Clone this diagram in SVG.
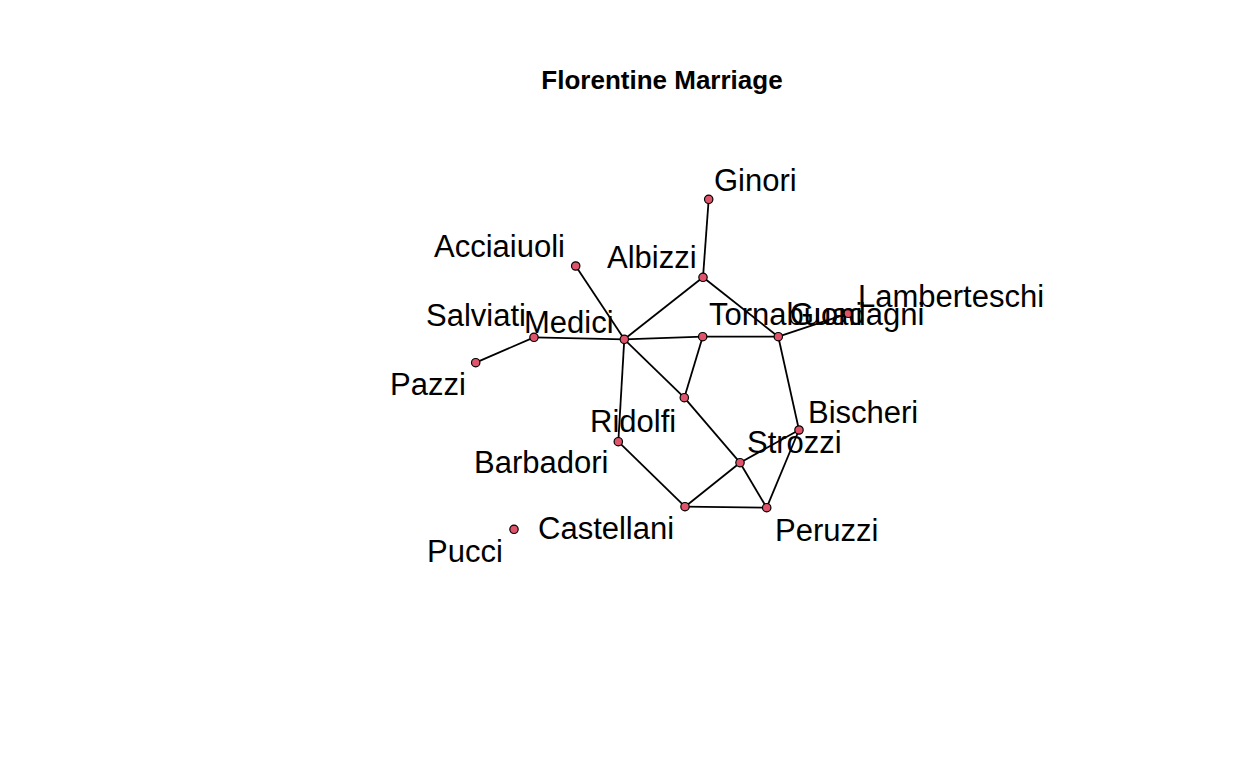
<svg xmlns="http://www.w3.org/2000/svg" width="1248" height="768" viewBox="0 0 1248 768">
<style>
.e{stroke:#000;stroke-width:1.8;fill:none}
.n{fill:#DF536B;stroke:#000;stroke-width:1.2}
.l{font-family:"Liberation Sans",Arial,sans-serif;font-size:31px;fill:#000}
.t{font-family:"Liberation Sans",Arial,sans-serif;font-size:26px;font-weight:bold;fill:#000}
</style>
<rect width="1248" height="768" fill="#fff"/>
<text class="t" x="662" y="89" text-anchor="middle">Florentine Marriage</text>
<g id="edges">
<line class="e" x1="575.7" y1="266" x2="624.3" y2="339.3"/>
<line class="e" x1="703" y1="277.3" x2="708.7" y2="199.3"/>
<line class="e" x1="703" y1="277.3" x2="778.3" y2="336.7"/>
<line class="e" x1="703" y1="277.3" x2="624.3" y2="339.3"/>
<line class="e" x1="618.3" y1="441.7" x2="685" y2="506.7"/>
<line class="e" x1="618.3" y1="441.7" x2="624.3" y2="339.3"/>
<line class="e" x1="799" y1="430" x2="778.3" y2="336.7"/>
<line class="e" x1="799" y1="430" x2="766.7" y2="507.7"/>
<line class="e" x1="799" y1="430" x2="740" y2="462.7"/>
<line class="e" x1="685" y1="506.7" x2="766.7" y2="507.7"/>
<line class="e" x1="685" y1="506.7" x2="740" y2="462.7"/>
<line class="e" x1="778.3" y1="336.7" x2="848.3" y2="313.3"/>
<line class="e" x1="778.3" y1="336.7" x2="702.7" y2="336.7"/>
<line class="e" x1="624.3" y1="339.3" x2="684.3" y2="397.7"/>
<line class="e" x1="624.3" y1="339.3" x2="534" y2="337.3"/>
<line class="e" x1="624.3" y1="339.3" x2="702.7" y2="336.7"/>
<line class="e" x1="475.7" y1="362.7" x2="534" y2="337.3"/>
<line class="e" x1="766.7" y1="507.7" x2="740" y2="462.7"/>
<line class="e" x1="684.3" y1="397.7" x2="740" y2="462.7"/>
<line class="e" x1="684.3" y1="397.7" x2="702.7" y2="336.7"/>
</g>
<g id="Acciaiuoli"><circle class="n" cx="575.7" cy="266" r="4.2"/><text class="l" x="434" y="257">Acciaiuoli</text></g>
<g id="Albizzi"><circle class="n" cx="703" cy="277.3" r="4.2"/><text class="l" x="607" y="268">Albizzi</text></g>
<g id="Barbadori"><circle class="n" cx="618.3" cy="441.7" r="4.2"/><text class="l" x="474" y="473">Barbadori</text></g>
<g id="Bischeri"><circle class="n" cx="799" cy="430" r="4.2"/><text class="l" x="808" y="423">Bischeri</text></g>
<g id="Castellani"><circle class="n" cx="685" cy="506.7" r="4.2"/><text class="l" x="538" y="539">Castellani</text></g>
<g id="Ginori"><circle class="n" cx="708.7" cy="199.3" r="4.2"/><text class="l" x="714" y="191">Ginori</text></g>
<g id="Guadagni"><circle class="n" cx="778.3" cy="336.7" r="4.2"/><text class="l" x="790" y="325">Guadagni</text></g>
<g id="Lamberteschi"><circle class="n" cx="848.3" cy="313.3" r="4.2"/><text class="l" x="858" y="307">Lamberteschi</text></g>
<g id="Medici"><circle class="n" cx="624.3" cy="339.3" r="4.2"/><text class="l" x="524" y="333">Medici</text></g>
<g id="Pazzi"><circle class="n" cx="475.7" cy="362.7" r="4.2"/><text class="l" x="390" y="395">Pazzi</text></g>
<g id="Peruzzi"><circle class="n" cx="766.7" cy="507.7" r="4.2"/><text class="l" x="775" y="541">Peruzzi</text></g>
<g id="Pucci"><circle class="n" cx="514" cy="529.3" r="4.2"/><text class="l" x="427" y="562">Pucci</text></g>
<g id="Ridolfi"><circle class="n" cx="684.3" cy="397.7" r="4.2"/><text class="l" x="590" y="432">Ridolfi</text></g>
<g id="Salviati"><circle class="n" cx="534" cy="337.3" r="4.2"/><text class="l" x="426" y="326">Salviati</text></g>
<g id="Strozzi"><circle class="n" cx="740" cy="462.7" r="4.2"/><text class="l" x="747" y="453">Strozzi</text></g>
<g id="Tornabuoni"><circle class="n" cx="702.7" cy="336.7" r="4.2"/><text class="l" x="709" y="325">Tornabuoni</text></g>
</svg>
